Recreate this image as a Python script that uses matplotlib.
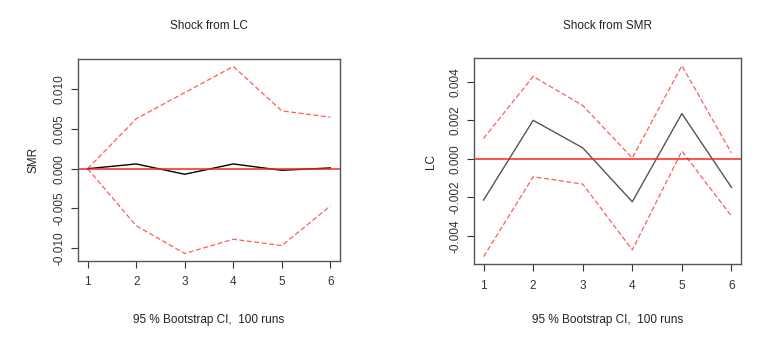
import numpy as np
import matplotlib.pyplot as plt

plt.rcParams["font.family"] = ["Liberation Sans", "DejaVu Sans"]

steps = [1, 2, 3, 4, 5, 6]

# Shock from LC -> SMR
lc_irf = [0.0, 0.0006, -0.0007, 0.0006, -0.0002, 0.0001]
lc_upper = [0.0, 0.0063, 0.0096, 0.0129, 0.0073, 0.0065]
lc_lower = [0.0, -0.0072, -0.0107, -0.0089, -0.0097, -0.0047]

# Shock from SMR -> LC
smr_irf = [-0.00214, 0.0020, 0.00057, -0.00223, 0.00235, -0.00148]
smr_upper = [0.00106, 0.00428, 0.00277, 0.00004, 0.00484, 0.00031]
smr_lower = [-0.00508, -0.00093, -0.00131, -0.00473, 0.00040, -0.00297]

panels = [
    ("Shock from LC", "SMR", lc_irf, lc_upper, lc_lower, "black",
     [-0.010, -0.005, 0.0, 0.005, 0.010], [0.1018, 0.2457, 0.3421, 0.5838], 10),
    ("Shock from SMR", "LC", smr_irf, smr_upper, smr_lower, "#555555",
     [-0.004, -0.002, 0.0, 0.002, 0.004], [0.6184, 0.2361, 0.3494, 0.5963], 9),
]

fig = plt.figure(figsize=(7.66, 3.46), dpi=100)

for title, ylab, irf, up, lo, col, yt, pos, lpad in panels:
    ax = fig.add_axes(pos)
    ax.plot(steps, up, color="#ff4040", linestyle=(0, (4, 2)), linewidth=0.9, alpha=0.85)
    ax.plot(steps, lo, color="#ff4040", linestyle=(0, (4, 2)), linewidth=0.9, alpha=0.85)
    ax.plot(steps, irf, color=col, linewidth=1.0)
    ax.axhline(0, color="#ff2020", linewidth=1.1)

    ymin = min(lo + irf)
    ymax = max(up + irf)
    pad = 0.04 * (ymax - ymin)
    ax.set_ylim(ymin - pad, ymax + pad)
    ax.set_xlim(1 - 0.04 * 5, 6 + 0.04 * 5)

    ax.set_xticks(steps)
    ax.set_yticks(yt)
    ax.set_yticklabels([f"{v:.3f}" for v in yt], rotation=90, va="center")
    ax.tick_params(direction="out", length=5, width=0.8, colors="#333333",
                   labelsize=8.5, pad=4)
    ax.tick_params(axis="x", pad=6)
    for s in ax.spines.values():
        s.set_color("#555555")
        s.set_linewidth(1.0)

    cx = pos[0] + pos[2] / 2
    fig.text(cx, 1 - 26 / 346, title, ha="center", va="center", fontsize=8.5, color="#222222")
    fig.text(cx, 1 - 320 / 346, "95 % Bootstrap CI,  100 runs", ha="center", va="center",
             fontsize=8.5, color="#222222")
    ax.set_ylabel(ylab, fontsize=8.5, color="#222222", labelpad=lpad)

fig.savefig("out.png", dpi=100)
